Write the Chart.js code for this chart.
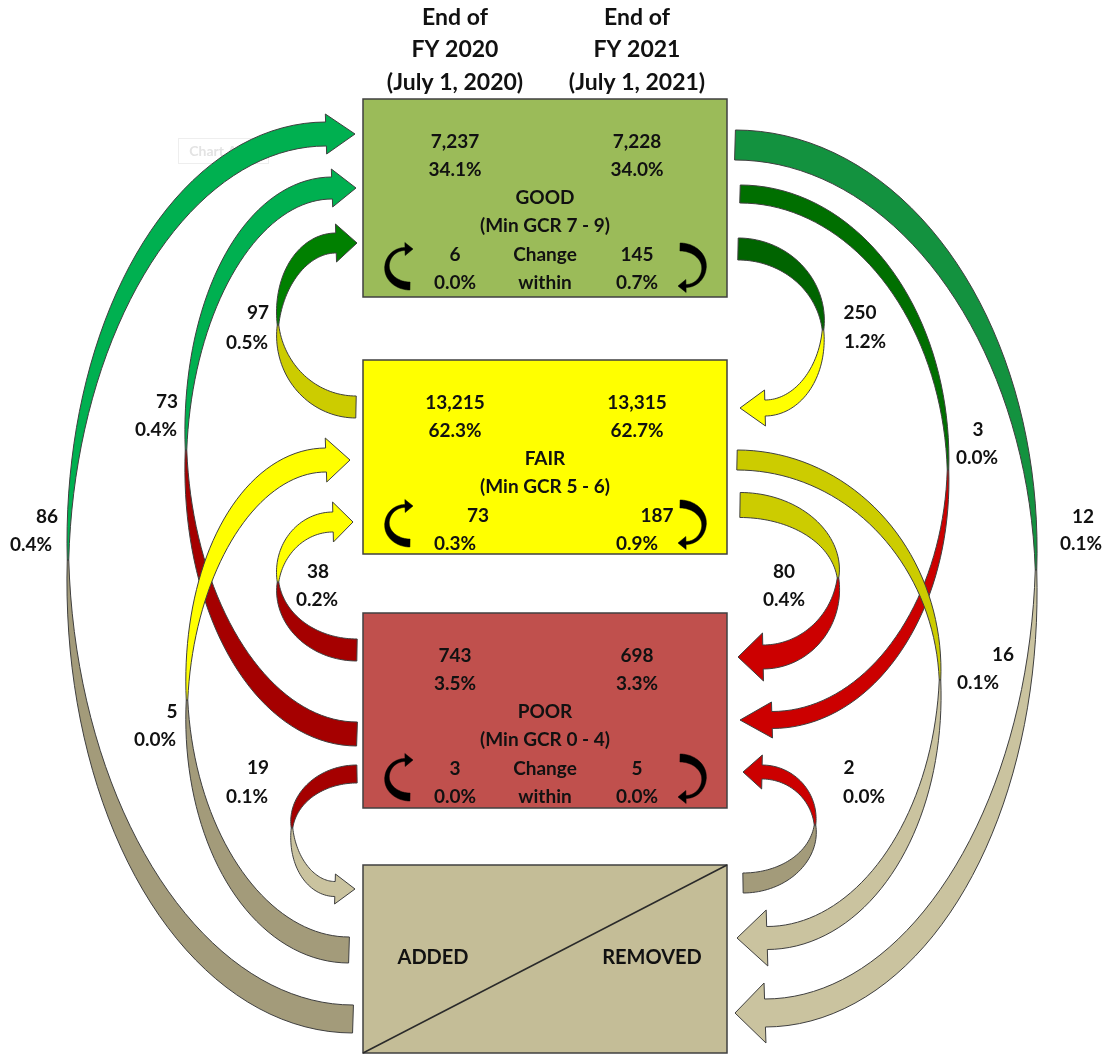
<!DOCTYPE html>
<html>
<head>
<meta charset="utf-8">
<script src="https://cdn.jsdelivr.net/npm/chart.js@4.4.1/dist/chart.umd.min.js"></script>
<style>
  html, body { margin: 0; padding: 0; background: #ffffff; }
  #wrap { width: 1107px; height: 1054px; }
</style>
</head>
<body>
<div id="wrap"><canvas id="c" width="1107" height="1054"></canvas></div>
<script>
// ---- Data ----------------------------------------------------------------
const columnTitles = [
  ['End of', 'FY 2020', '(July 1, 2020)'],
  ['End of', 'FY 2021', '(July 1, 2021)']
];
const conditionKeys = ['good', 'fair', 'poor'];
const conditionNames = ['GOOD', 'FAIR', 'POOR'];
const gcrRanges = ['(Min GCR 7 - 9)', '(Min GCR 5 - 6)', '(Min GCR 0 - 4)'];
const count2020 = [7237, 13215, 743];
const pct2020 = [34.1, 62.3, 3.5];
const count2021 = [7228, 13315, 698];
const pct2021 = [34.0, 62.7, 3.3];
const withinLeftCount = [6, 73, 3];
const withinLeftPct = [0.0, 0.3, 0.0];
const withinRightCount = [145, 187, 5];
const withinRightPct = [0.7, 0.9, 0.0];
const changeWithinText = ['Change', 'within'];
const showChangeWithin = [true, false, true];
const addRemLabels = ['ADDED', 'REMOVED'];

// Transfers between boxes (listed in drawing order)
const flowFrom  = ['addRem', 'poor', 'addRem', 'fair', 'poor', 'poor', 'good', 'good', 'fair', 'good', 'fair', 'addRem'];
const flowTo    = ['good',   'good', 'fair',   'good', 'fair', 'addRem', 'addRem', 'poor', 'addRem', 'fair', 'poor', 'poor'];
const flowCount = [86, 73, 5, 97, 38, 19, 12, 3, 16, 250, 80, 2];
const flowPct   = [0.4, 0.4, 0.0, 0.5, 0.2, 0.1, 0.1, 0.0, 0.1, 1.2, 0.4, 0.0];

// ---- Layout (diagram units, mapped through the chart scales) --------------
const boxRect = {
  good:   [363, 99, 727, 297],
  fair:   [363, 360, 727, 554],
  poor:   [363, 613, 727, 808],
  addRem: [363, 865, 727, 1053]
};
const boxFill = { good: '#9BBB59', fair: '#FFFF00', poor: '#C0504D', addRem: '#C4BD97' };
const columnX = [455, 637];
const titleRowY = [18, 50, 83];
const rowOffsets = [43, 71, 99, 127, 156, 184];
const withinCountX = { good: [455, 637], fair: [478, 657], poor: [455, 637] };

// tail: [x, y, width]; mid: [x, y]; tip: [x, y]; base: x of arrowhead base
const flowShape = [
  { tail: [353, 1019, 28], mid: [68, 560],  tip: [355, 134],  base: 326, half: 20, wHead: 24 },
  { tail: [357, 734, 24],  mid: [186, 450], tip: [356, 188],  base: 332, half: 19, wHead: 22 },
  { tail: [349, 950, 26],  mid: [187, 700], tip: [350, 460],  base: 326, half: 22, wHead: 24 },
  { tail: [356, 407, 22],  mid: [278, 325], tip: [357, 243],  base: 336, half: 19, wHead: 20 },
  { tail: [357, 650, 22],  mid: [278, 582], tip: [353, 522],  base: 333, half: 20, wHead: 20 },
  { tail: [357, 774, 18],  mid: [292, 828], tip: [355, 889],  base: 335, half: 15, wHead: 15 },
  { tail: [735, 145, 30],  mid: [1036, 570], tip: [735, 1013], base: 765, half: 30, wHead: 28 },
  { tail: [740, 194, 18],  mid: [948, 470], tip: [740, 720],  base: 772, half: 18, wHead: 17 },
  { tail: [737, 460, 20],  mid: [940, 680], tip: [737, 938],  base: 767, half: 28, wHead: 23 },
  { tail: [738, 249, 22],  mid: [823, 330], tip: [740, 408],  base: 765, half: 18, wHead: 16 },
  { tail: [740, 505, 25],  mid: [838, 578], tip: [738, 657],  base: 763, half: 24, wHead: 24 },
  { tail: [743, 883, 20],  mid: [815, 825], tip: [743, 772],  base: 762, half: 17, wHead: 14 }
];
const flowTailColor = ['#A39B7A', '#A50000', '#A39B7A', '#CCCC00', '#A50000', '#A50000',
                       '#13923F', '#006F00', '#CCCC00', '#006400', '#CCCC00', '#A39B7A'];
const flowHeadColor = ['#00B050', '#00B050', '#FFFF00', '#008000', '#FFFF00', '#CAC39F',
                       '#CAC39F', '#CC0000', '#CAC39F', '#FFFF00', '#CC0000', '#CC0000'];
// [count x, count y, pct x, pct y]
const flowLabelPos = [
  [47, 517, 31, 545], [167, 402, 156, 430], [172, 712, 155, 740], [258, 313, 247, 343],
  [318, 572, 317, 600], [258, 768, 247, 797], [1083, 517, 1081, 544], [978, 430, 977, 458],
  [1003, 655, 978, 683], [860, 313, 865, 342], [784, 572, 784, 600], [849, 768, 864, 797]
];

const FONT = '"Lato", "Open Sans", sans-serif';
const TITLE_SIZE = 23;
const BOX_SIZE = 19;
const LABEL_SIZE = 19;
const ADDREM_SIZE = 20;
const fmtPct = v => v.toFixed(1) + '%';
const fmtCount = v => v.toLocaleString('en-US');

// ---- Geometry helpers ----------------------------------------------------
// Centerline made of two quarter ellipses: tail -> mid -> head end.
function centerline(T, M, H, n) {
  const q = (E, i) => {
    const phi = Math.PI / 2 * (1 - i / n);
    return { x: E[0] + (M[0] - E[0]) * Math.cos(phi), y: M[1] + (E[1] - M[1]) * Math.sin(phi), s: Math.sin(phi) };
  };
  const pts = [];
  for (let i = 0; i <= n; i++) { const p = q(T, i); p.part = 0; pts.push(p); }
  for (let i = n - 1; i >= 0; i--) { const p = q(H, i); p.part = 1; pts.push(p); }
  return pts;
}

function arrowOutline(shape, wMid) {
  const n = 40;
  const T = [shape.tail[0], shape.tail[1]];
  const H = [shape.base, shape.tip[1]];
  const pts = centerline(T, shape.mid, H, n);
  const left = [], right = [];
  for (let i = 0; i < pts.length; i++) {
    const a = pts[Math.max(i - 1, 0)], b = pts[Math.min(i + 1, pts.length - 1)];
    const dx = b.x - a.x, dy = b.y - a.y;
    const len = Math.hypot(dx, dy) || 1;
    const nx = -dy / len, ny = dx / len;
    const p = pts[i];
    const wEnd = p.part === 0 ? shape.tail[2] : shape.wHead;
    const w = wMid + (wEnd - wMid) * p.s;
    p.nx = nx; p.ny = ny;
    left.push([p.x + nx * w / 2, p.y + ny * w / 2]);
    right.push([p.x - nx * w / 2, p.y - ny * w / 2]);
  }
  const last = pts[pts.length - 1];
  const wingL = [H[0] + last.nx * shape.half, H[1] + last.ny * shape.half];
  const wingR = [H[0] - last.nx * shape.half, H[1] - last.ny * shape.half];
  const tailPoly = left.slice(0, n + 1).concat(right.slice(0, n + 1).reverse());
  const headPoly = left.slice(n).concat([wingL, [shape.tip[0], shape.tip[1]], wingR], right.slice(n).reverse());
  return { tailPoly, headPoly };
}

// ---- Diagram plugin --------------------------------------------------------
const flowDiagram = {
  id: 'flowDiagram',
  beforeDraw(chart) {
    const ctx = chart.ctx;
    ctx.save();
    ctx.fillStyle = '#ffffff';
    ctx.fillRect(0, 0, chart.width, chart.height);
    ctx.restore();
  },
  afterDraw(chart) {
    const ctx = chart.ctx;
    const sx = chart.scales.x, sy = chart.scales.y;
    const X = v => sx.getPixelForValue(v);
    const Y = v => sy.getPixelForValue(v);

    const poly = (pts, fill, stroke, lw) => {
      ctx.beginPath();
      pts.forEach((p, i) => i ? ctx.lineTo(X(p[0]), Y(p[1])) : ctx.moveTo(X(p[0]), Y(p[1])));
      ctx.closePath();
      ctx.fillStyle = fill; ctx.fill();
      if (stroke) { ctx.strokeStyle = stroke; ctx.lineWidth = lw; ctx.stroke(); }
    };
    const text = (s, x, y, size, color) => {
      ctx.font = 'bold ' + size + 'px ' + FONT;
      ctx.fillStyle = color || '#111111';
      ctx.textAlign = 'center';
      ctx.textBaseline = 'middle';
      ctx.fillText(s, X(x), Y(y));
    };

    ctx.save();
    ctx.lineJoin = 'miter';

    // faint leftover "Chart Area" hint
    ctx.strokeStyle = '#EEEEEE'; ctx.lineWidth = 1;
    ctx.strokeRect(X(178) + 0.5, Y(138) + 0.5, X(268) - X(178), Y(163) - Y(138));
    text('Chart Area', 223, 151, 14, '#E3E3E3');

    // flow arrows
    flowShape.forEach((shape, i) => {
      const o = arrowOutline(shape, 1.5);
      poly(o.tailPoly, flowTailColor[i], '#3F3F3F', 1);
      poly(o.headPoly, flowHeadColor[i], '#3F3F3F', 1);
    });

    // boxes
    Object.keys(boxRect).forEach(k => {
      const r = boxRect[k];
      const rp = [[r[0], r[1]], [r[2], r[1]], [r[2], r[3]], [r[0], r[3]]];
      poly(rp, boxFill[k], '#404040', 1.5);
    });
    const ar = boxRect.addRem;
    ctx.beginPath();
    ctx.moveTo(X(ar[0]), Y(ar[3]));
    ctx.lineTo(X(ar[2]), Y(ar[1]));
    ctx.strokeStyle = '#2A2A2A'; ctx.lineWidth = 1.5; ctx.stroke();

    // column titles
    columnTitles.forEach((lines, c) => lines.forEach((s, r) => text(s, columnX[c], titleRowY[r], TITLE_SIZE)));

    // condition boxes contents
    conditionKeys.forEach((k, i) => {
      const r = boxRect[k];
      const top = r[1], mid = (r[0] + r[2]) / 2;
      text(fmtCount(count2020[i]), columnX[0], top + rowOffsets[0], BOX_SIZE);
      text(fmtPct(pct2020[i]), columnX[0], top + rowOffsets[1], BOX_SIZE);
      text(fmtCount(count2021[i]), columnX[1], top + rowOffsets[0], BOX_SIZE);
      text(fmtPct(pct2021[i]), columnX[1], top + rowOffsets[1], BOX_SIZE);
      text(conditionNames[i], mid, top + rowOffsets[2], BOX_SIZE);
      text(gcrRanges[i], mid, top + rowOffsets[3], BOX_SIZE);
      text(fmtCount(withinLeftCount[i]), withinCountX[k][0], top + rowOffsets[4], BOX_SIZE);
      text(fmtPct(withinLeftPct[i]), columnX[0], top + rowOffsets[5], BOX_SIZE);
      text(fmtCount(withinRightCount[i]), withinCountX[k][1], top + rowOffsets[4], BOX_SIZE);
      text(fmtPct(withinRightPct[i]), columnX[1], top + rowOffsets[5], BOX_SIZE);
      if (showChangeWithin[i]) {
        text(changeWithinText[0], mid, top + rowOffsets[4], BOX_SIZE);
        text(changeWithinText[1], mid, top + rowOffsets[5], BOX_SIZE);
      }
      // small turn-around arrows for changes within the same condition
      const b = r[3];
      const leftMini = { tail: [r[0] + 47, b - 11, 8], mid: [r[0] + 24, b - 30], tip: [r[0] + 50, b - 48], base: r[0] + 42, half: 6.5, wHead: 3 };
      const rightMini = { tail: [r[2] - 47, b - 50, 8], mid: [r[2] - 23, b - 30], tip: [r[2] - 49, b - 11], base: r[2] - 41, half: 6.5, wHead: 3 };
      [leftMini, rightMini].forEach(m => {
        const o = arrowOutline(m, 4.5);
        poly(o.tailPoly, '#000000', '#000000', 0.5);
        poly(o.headPoly, '#000000', '#000000', 0.5);
      });
    });

    text(addRemLabels[0], 433, 958, ADDREM_SIZE);
    text(addRemLabels[1], 652, 958, ADDREM_SIZE);

    // flow labels
    flowCount.forEach((v, i) => {
      const p = flowLabelPos[i];
      text(fmtCount(v), p[0], p[1], LABEL_SIZE);
      text(fmtPct(flowPct[i]), p[2], p[3], LABEL_SIZE);
    });

    ctx.restore();
  }
};

new Chart(document.getElementById('c'), {
  type: 'scatter',
  data: { datasets: [{ data: [], pointRadius: 0 }] },
  options: {
    responsive: false,
    animation: false,
    events: [],
    layout: { padding: 0 },
    plugins: { legend: { display: false }, tooltip: { enabled: false } },
    scales: {
      x: { type: 'linear', min: 0, max: 1107, display: false },
      y: { type: 'linear', min: 0, max: 1054, reverse: true, display: false }
    }
  },
  plugins: [flowDiagram]
});
</script>
</body>
</html>
